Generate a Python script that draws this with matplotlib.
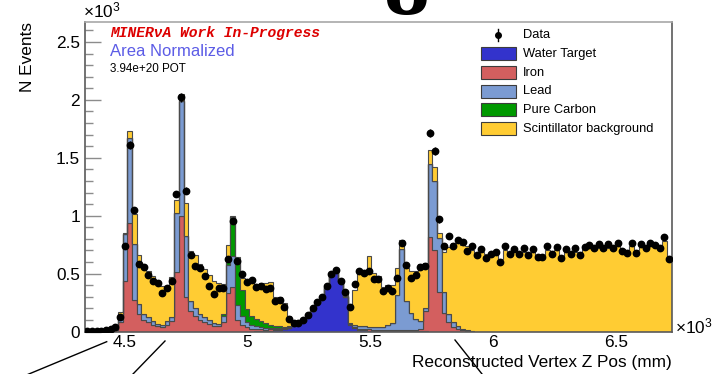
import numpy as np
import matplotlib
matplotlib.use("Agg")
import matplotlib.pyplot as plt
from matplotlib.patches import Rectangle
from matplotlib.lines import Line2D

# ---------------------------------------------------------------- data
z_range = (4340.0, 6725.0)          # mm
n_bins = 125

water = [
    0, 0, 0, 0, 0, 0, 0, 0, 0, 0,
    0, 0, 0, 0, 0, 0, 0, 0, 0, 0,
    0, 0, 0, 0, 0, 0, 0, 0, 0, 0,
    0, 0, 0, 0, 0, 0, 2, 3, 5, 8,
    10, 15, 20, 30, 45, 65, 92, 128, 180, 245,
    292, 378, 478, 522, 435, 300, 60, 30, 15, 10,
    8, 5, 4, 3, 2, 2, 2, 2, 1, 1,
    1, 1, 1, 0, 0, 0, 0, 0, 0, 0,
    0, 0, 0, 0, 0, 0, 0, 0, 0, 0,
    0, 0, 0, 0, 0, 0, 0, 0, 0, 0,
    0, 0, 0, 0, 0, 0, 0, 0, 0, 0,
    0, 0, 0, 0, 0, 0, 0, 0, 0, 0,
    0, 0, 0, 0, 0,
]
iron = [
    0, 0, 0, 0, 2, 5, 15, 80, 440, 937,
    270, 150, 95, 78, 58, 49, 40, 60, 92, 510,
    1000, 300, 179, 135, 100, 85, 65, 50, 45, 80,
    330, 380, 100, 60, 40, 25, 20, 15, 12, 10,
    8, 6, 5, 4, 3, 2, 2, 2, 1, 1,
    1, 1, 1, 1, 1, 2, 3, 8, 10, 10,
    10, 10, 10, 10, 10, 10, 10, 10, 8, 8,
    10, 20, 180, 820, 700, 340, 160, 80, 40, 20,
    10, 5, 3, 0, 0, 0, 0, 0, 0, 0,
    0, 0, 0, 0, 0, 0, 0, 0, 0, 0,
    0, 0, 0, 0, 0, 0, 0, 0, 0, 0,
    0, 0, 0, 0, 0, 0, 0, 0, 0, 0,
    0, 0, 0, 0, 0,
]
lead = [
    0, 0, 0, 0, 2, 4, 10, 55, 405, 734,
    485, 86, 55, 43, 34, 20, 15, 32, 35, 513,
    990, 527, 86, 72, 50, 40, 30, 25, 20, 55,
    240, 275, 130, 70, 40, 30, 25, 20, 15, 12,
    10, 8, 6, 5, 4, 3, 2, 2, 2, 2,
    2, 2, 2, 2, 2, 3, 8, 20, 25, 25,
    25, 25, 25, 30, 40, 60, 300, 700, 250, 150,
    100, 70, 20, 630, 600, 470, 185, 70, 40, 25,
    12, 6, 3, 0, 0, 0, 0, 0, 0, 0,
    0, 0, 0, 0, 0, 0, 0, 0, 0, 0,
    0, 0, 0, 0, 0, 0, 0, 0, 0, 0,
    0, 0, 0, 0, 0, 0, 0, 0, 0, 0,
    0, 0, 0, 0, 0,
]
carbon = [
    0, 0, 0, 0, 0, 0, 0, 0, 0, 0,
    0, 0, 0, 0, 0, 0, 0, 0, 0, 0,
    0, 0, 0, 0, 0, 0, 0, 0, 0, 20,
    30, 330, 390, 230, 110, 80, 60, 50, 40, 30,
    20, 15, 10, 6, 3, 2, 1, 0, 0, 0,
    0, 0, 0, 0, 0, 0, 0, 0, 0, 0,
    0, 0, 0, 0, 0, 0, 0, 0, 0, 0,
    0, 0, 0, 0, 0, 0, 0, 0, 0, 0,
    0, 0, 0, 0, 0, 0, 0, 0, 0, 0,
    0, 0, 0, 0, 0, 0, 0, 0, 0, 0,
    0, 0, 0, 0, 0, 0, 0, 0, 0, 0,
    0, 0, 0, 0, 0, 0, 0, 0, 0, 0,
    0, 0, 0, 0, 0,
]
scint = [
    0, 0, 0, 2, 4, 8, 20, 32, 5, 58,
    259, 424, 425, 403, 389, 369, 340, 303, 345, 115,
    60, 280, 432, 453, 432, 414, 395, 363, 350, 255,
    150, 15, 20, 100, 250, 310, 300, 335, 348, 370,
    252, 251, 204, 85, 15, 5, 3, 3, 2, 2,
    2, 2, 2, 2, 5, 40, 160, 300, 480, 485,
    607, 465, 440, 337, 348, 330, 240, 75, 290, 360,
    410, 490, 390, 120, 120, 40, 345, 580, 680, 745,
    723, 729, 694, 660, 690, 670, 665, 690, 630, 700,
    650, 700, 660, 690, 670, 690, 650, 660, 700, 660,
    700, 650, 690, 670, 690, 665, 710, 720, 700, 725,
    700, 720, 700, 740, 710, 700, 740, 700, 730, 710,
    740, 730, 720, 780, 650,
]
data = [
    5, 5, 5, 6, 12, 22, 40, 127, 741, 1611,
    1049, 582, 553, 487, 438, 415, 329, 375, 438, 1187,
    2021, 1216, 660, 568, 545, 476, 392, 323, 372, 372,
    630, 957, 611, 496, 430, 445, 380, 390, 370, 372,
    262, 268, 213, 110, 75, 71, 100, 143, 201, 257,
    300, 393, 497, 532, 438, 338, 214, 406, 523, 502,
    524, 450, 453, 349, 372, 349, 464, 760, 575, 464,
    487, 555, 563, 1717, 1559, 967, 740, 823, 740, 789,
    775, 694, 737, 659, 708, 631, 665, 688, 596, 737,
    665, 711, 665, 723, 659, 711, 645, 645, 737, 665,
    731, 631, 711, 665, 723, 659, 731, 746, 723, 754,
    717, 754, 717, 766, 697, 674, 766, 680, 754, 717,
    766, 746, 723, 818, 622,
]
pot_scale = 0.7   # area-normalisation weight applied to the data counts

components = [
    ("Water Target", water, "#3333cc"),
    ("Iron", iron, "#d35f5f"),
    ("Lead", lead, "#7b9bd2"),
    ("Pure Carbon", carbon, "#009900"),
    ("Scintillator background", scint, "#ffcc33"),
]

# ---------------------------------------------------------------- figure
W, H, DPI = 713, 374, 100
plt.rcParams["font.family"] = ["Liberation Sans", "DejaVu Sans"]
plt.rcParams["mathtext.fontset"] = "custom"
plt.rcParams["mathtext.rm"] = "Liberation Sans"


def fx(px):
    return px / W


def fy(py):
    return 1.0 - py / H


fig = plt.figure(figsize=(W / DPI, H / DPI), dpi=DPI)
ax_l, ax_r, ax_t, ax_b = 85.0, 671.5, 22.0, 331.5
ax = fig.add_axes([fx(ax_l), fy(ax_b), (ax_r - ax_l) / W, (ax_b - ax_t) / H])

edges = np.linspace(z_range[0], z_range[1], n_bins + 1)
centers = 0.5 * (edges[:-1] + edges[1:])

base = np.zeros(n_bins)
for name, vals, col in components:
    top = base + np.asarray(vals, dtype=float)
    ax.stairs(top, edges, baseline=base.copy(), fill=True,
              facecolor=col, edgecolor="#4a4a4a", linewidth=0.8)
    base = top

d = np.asarray(data, dtype=float)
ax.errorbar(centers, d, yerr=np.sqrt(d * pot_scale), fmt="o", ms=4.6,
            color="black", ecolor="black", elinewidth=1.0, capsize=0, zorder=5)

ax.set_xlim(*z_range)
ax.set_ylim(0, 2672)

ax.set_xticks([4500, 5000, 5500, 6000, 6500])
ax.set_xticklabels(["4.5", "5", "5.5", "6", "6.5"])
ax.set_yticks([0, 500, 1000, 1500, 2000, 2500])
ax.set_yticklabels(["0", "0.5", "1", "1.5", "2", "2.5"])
ax.set_yticks(np.arange(0, 2672, 100), minor=True)
ax.tick_params(axis="y", which="major", direction="in", length=11.5,
               width=1.0, color="#8c8c8c", labelsize=12.4, pad=3.5)
ax.tick_params(axis="y", which="minor", direction="in", length=5.8,
               width=1.0, color="#8c8c8c")
ax.tick_params(axis="x", which="both", length=0, labelsize=12.4, pad=2.5)

for side, col in [("left", "#5a5a5a"), ("bottom", "#5a5a5a"),
                  ("right", "#5a5a5a"), ("top", "#a8a8a8")]:
    ax.spines[side].set_color(col)
    ax.spines[side].set_linewidth(1.2)

# axis titles and exponents
fig.text(fx(28), fy(22), "N Events", rotation=90, ha="center", va="top",
         fontsize=12.4)
fig.text(fx(672), fy(367), "Reconstructed Vertex Z Pos (mm)", ha="right",
         va="baseline", fontsize=12.4)
fig.text(fx(83), fy(17), r"$\mathregular{\times10^{3}}$", ha="left",
         va="baseline", fontsize=12.4)
fig.text(fx(675), fy(333), r"$\mathregular{\times10^{3}}$", ha="left",
         va="baseline", fontsize=12.4)

# labels inside the frame
fig.text(fx(110), fy(37), "MINERνA Work In-Progress", ha="left",
         va="baseline", fontsize=10.5, color="#dd0000",
         family=["Liberation Mono", "DejaVu Sans Mono"], weight="bold",
         style="italic")
fig.text(fx(110), fy(56), "Area Normalized", ha="left", va="baseline",
         fontsize=12, color="#5c5ce6")
fig.text(fx(110), fy(72), "3.94e+20 POT", ha="left", va="baseline",
         fontsize=8.4, color="black")

# legend
row_y = [35.0, 53.8, 72.8, 91.2, 109.8, 128.8]
fig.add_artist(Line2D([fx(498), fx(498)], [fy(row_y[0] - 6), fy(row_y[0] + 6)],
                      color="black", lw=1.0, transform=fig.transFigure))
fig.add_artist(Line2D([fx(498)], [fy(row_y[0])], marker="o", ms=4.0,
                      color="black", transform=fig.transFigure))
fig.text(fx(523), fy(row_y[0]), "Data", ha="left", va="center", fontsize=9.3)
for (name, _, col), ry in zip(components, row_y[1:]):
    fig.add_artist(Rectangle((fx(480.7), fy(ry + 6.5)), 35 / W, 13 / H,
                             facecolor=col, edgecolor="#3c3c3c", lw=0.8,
                             transform=fig.transFigure))
    fig.text(fx(523), fy(ry), name, ha="left", va="center", fontsize=9.3)

# stray drawing marks outside the frame
fig.text(fx(407), fy(14), "8", ha="center", va="baseline", fontsize=66,
         family="Liberation Serif", weight="bold")
for (x0, y0, x1, y1) in [(0, 386, 106.7, 341.7), (133, 374, 165, 341),
                         (455, 340, 482, 374)]:
    fig.add_artist(Line2D([fx(x0), fx(x1)], [fy(y0), fy(y1)], color="black",
                          lw=1.0, transform=fig.transFigure))

fig.savefig("out.png", dpi=DPI)
